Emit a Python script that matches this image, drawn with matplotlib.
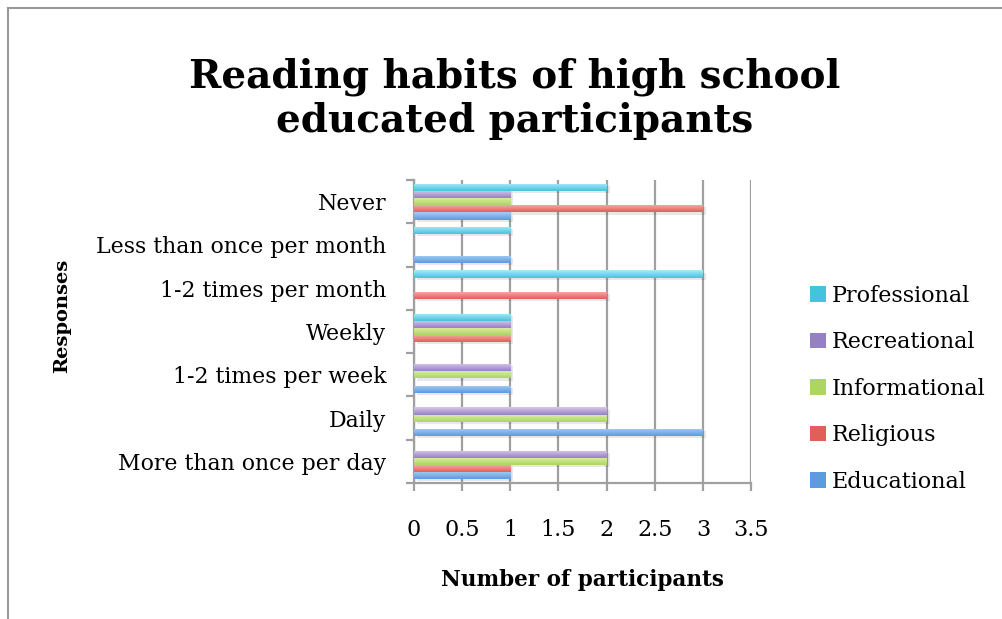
import numpy as np
import matplotlib.pyplot as plt
from matplotlib.colors import LinearSegmentedColormap
from matplotlib.lines import Line2D
from matplotlib.patches import Patch

# responses, bottom to top
responses = ['More than once per day', 'Daily', '1-2 times per week', 'Weekly',
             '1-2 times per month', 'Less than once per month', 'Never']

# series, in drawing order (bottom bar of each group first)
series = ['Educational', 'Religious', 'Informational', 'Recreational', 'Professional']
educational = [1, 3, 1, 0, 0, 1, 1]
religious = [1, 0, 0, 1, 2, 0, 3]
informational = [2, 2, 1, 1, 0, 0, 1]
recreational = [2, 2, 1, 1, 0, 0, 1]
professional = [0, 0, 0, 1, 3, 1, 2]
values = [educational, religious, informational, recreational, professional]

# (light top, dark bottom) for each series
shades = [('#a8cdf6', '#5b9be0'),
          ('#fbb0aa', '#df5f5a'),
          ('#dcf0a8', '#aed462'),
          ('#d9c8f0', '#9580c4'),
          ('#a6eefa', '#45c3dc')]

plt.rcParams['font.family'] = ['DejaVu Serif']

fig = plt.figure(figsize=(10.03, 6.19), dpi=100)
ax = fig.add_axes([0.4128, 0.2197, 0.336, 0.4895])

y = np.arange(len(responses))
h = 0.165
grad = np.linspace(1, 0, 64).reshape(-1, 1)

for k, (name, vals, (light, dark)) in enumerate(zip(series, values, shades)):
    pos = y + (k - 2) * h
    # soft drop shadow
    ax.barh(pos - 0.05, vals, height=h, left=0.03, color='#000000', alpha=0.09,
            zorder=2, linewidth=0)
    bars = ax.barh(pos, vals, height=h, color=dark, zorder=3, linewidth=0, label=name)
    cmap = LinearSegmentedColormap.from_list(name, [dark, light])
    for b in bars:
        if b.get_width() == 0:
            continue
        x0, y0 = b.get_x(), b.get_y()
        im = ax.imshow(grad, cmap=cmap, aspect='auto', zorder=4,
                       extent=[x0, x0 + b.get_width(), y0, y0 + b.get_height()],
                       origin='upper', interpolation='bicubic')
        im.set_clip_path(b)

ax.set_xlim(0, 3.5)
ax.set_ylim(-0.5, len(responses) - 0.5)
ax.set_xticks(np.arange(0, 3.51, 0.5))
ax.set_xticklabels(['0', '0.5', '1', '1.5', '2', '2.5', '3', '3.5'])
ax.set_yticks(np.arange(-0.5, len(responses), 1.0))
ax.set_yticklabels([])
ax.set_yticks(y, minor=True)
ax.set_yticklabels(responses, minor=True)

gray = '#a0a0a0'
ax.grid(axis='x', color=gray, linewidth=1.6, zorder=0)
ax.set_axisbelow(True)
for s in ['top', 'right']:
    ax.spines[s].set_visible(False)
for s in ['left', 'bottom']:
    ax.spines[s].set_color(gray)
    ax.spines[s].set_linewidth(1.6)
ax.tick_params(axis='both', which='major', color=gray, width=1.6, length=6,
               labelsize=16, pad=20)
ax.tick_params(axis='y', which='minor', length=0, labelsize=15.8, pad=20)

ax.set_xlabel('Number of participants', fontsize=15.5, fontweight='bold', labelpad=20)
fig.text(0.062, 0.49, 'Responses', rotation=90, fontsize=14, fontweight='bold',
         ha='center', va='center')

fig.text(0.513, 0.841, 'Reading habits of high school\neducated participants',
         ha='center', va='center', fontsize=28, fontweight='bold', linespacing=1.2)

handles = [Patch(facecolor=shades[k][1], label=series[k]) for k in range(4, -1, -1)]
fig.legend(handles=handles, loc='center left', bbox_to_anchor=(0.799, 0.372),
           frameon=False, fontsize=16, handlelength=0.7, handleheight=0.7,
           handletextpad=0.25, labelspacing=1.1, borderaxespad=0)

# chart frame
fig.add_artist(Line2D([0.008, 0.008], [0, 0.987], color='#999999', linewidth=1.5))
fig.add_artist(Line2D([0.008, 1.0], [0.987, 0.987], color='#999999', linewidth=1.5))

fig.savefig('out.png', dpi=100)
